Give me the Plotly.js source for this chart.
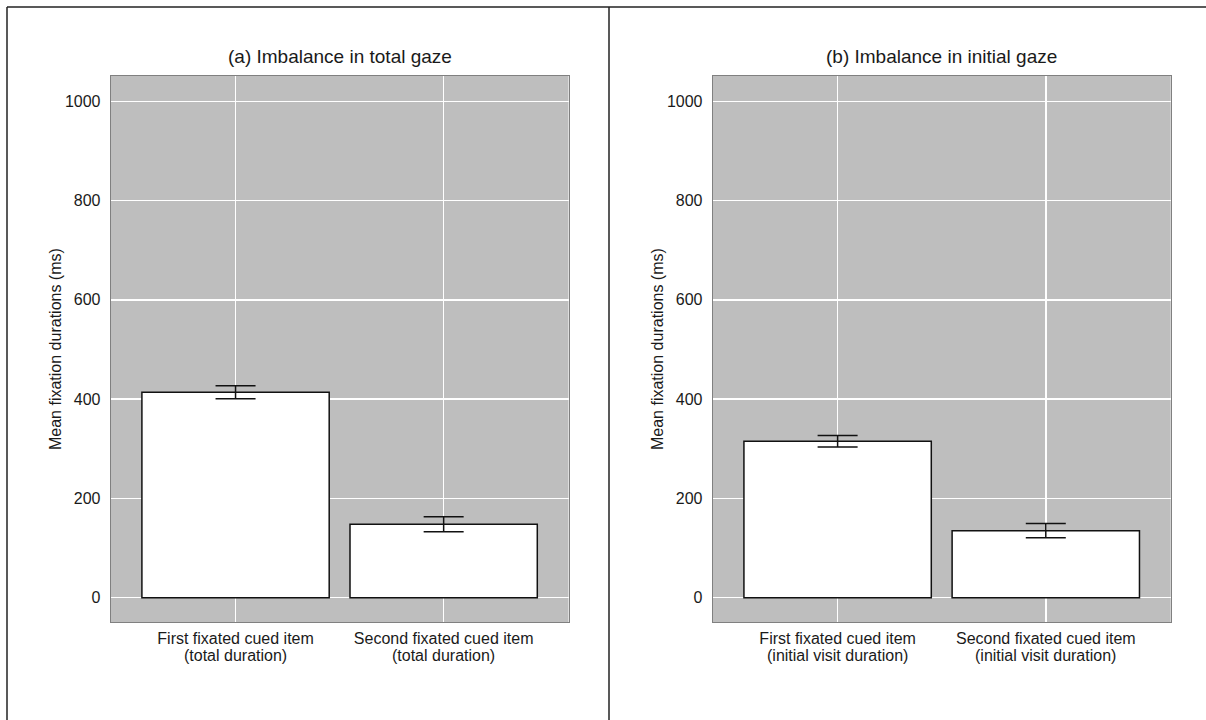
<!DOCTYPE html>
<html>
<head>
<meta charset="utf-8">
<script src="https://cdn.plot.ly/plotly-3.0.1.min.js"></script>
<style>
  html, body { margin: 0; padding: 0; background: #ffffff; }
  #chart { width: 1206px; height: 720px; }
</style>
</head>
<body>
<div id="chart"></div>
<script>
// Mean fixation durations (ms) with standard errors
const panelTitles = ['(a) Imbalance in total gaze', '(b) Imbalance in initial gaze'];

const categories = ['First fixated cued item', 'Second fixated cued item'];
const detailTotal = ['(total duration)', '(total duration)'];
const detailInitial = ['(initial visit duration)', '(initial visit duration)'];

const meanTotal = [414, 148];
const errTotal = [13, 15];
const meanInitial = [315, 135];
const errInitial = [11.5, 14.5];

const yTickVals = [0, 200, 400, 600, 800, 1000];
const yAxisTitle = 'Mean fixation durations (ms)';

const W = 1206, H = 720;
const px = v => v / W;           // horizontal pixel -> paper
const py = v => 1 - v / H;       // vertical pixel -> paper

const textColor = '#1a1a1a';
const fontFamily = '"Liberation Sans", Arial, Helvetica, sans-serif';
const labelSize = 16;

function barTrace(cats, vals, errs, xa, ya) {
  return {
    type: 'bar',
    x: cats,
    y: vals,
    xaxis: xa,
    yaxis: ya,
    width: 0.9,
    marker: { color: '#ffffff', line: { color: '#111111', width: 1.5 } },
    error_y: { type: 'data', array: errs, visible: true, color: '#111111', thickness: 1.5, width: 20 },
    hoverinfo: 'x+y',
    showlegend: false
  };
}

const xCommon = {
  type: 'category',
  range: [-0.6, 1.6],
  showgrid: true,
  gridcolor: '#ffffff',
  gridwidth: 1.5,
  zeroline: false,
  showline: true,
  mirror: true,
  linecolor: '#808080',
  linewidth: 1,
  ticks: '',
  ticklabelstandoff: 2,
  tickfont: { size: labelSize, color: textColor, family: fontFamily },
  fixedrange: true
};
const yCommon = {
  range: [-49, 1051],
  tickvals: yTickVals,
  ticktext: yTickVals.map(String),
  showgrid: true,
  gridcolor: '#ffffff',
  gridwidth: 1.5,
  zeroline: false,
  showline: true,
  mirror: true,
  linecolor: '#808080',
  linewidth: 1,
  ticks: '',
  ticklabelstandoff: 6,
  tickfont: { size: labelSize, color: textColor, family: fontFamily },
  domain: [py(622), py(76)],
  fixedrange: true
};

const domA = [px(110.7), px(568.5)];
const domB = [px(712.7), px(1170.7)];

// second line of each category label, placed under the tick label
function detailNotes(details, xref) {
  return details.map((t, i) => ({
    text: t, xref: xref, yref: 'paper', x: categories[i], y: py(645),
    xanchor: 'center', yanchor: 'top', showarrow: false,
    font: { size: labelSize, color: textColor }
  }));
}

const layout = {
  width: W,
  height: H,
  margin: { l: 0, r: 0, t: 0, b: 0 },
  paper_bgcolor: '#ffffff',
  plot_bgcolor: '#bebebe',
  font: { family: fontFamily, color: textColor },
  bargap: 0,
  xaxis: Object.assign({}, xCommon, { domain: domA, anchor: 'y' }),
  yaxis: Object.assign({}, yCommon, { anchor: 'x' }),
  xaxis2: Object.assign({}, xCommon, { domain: domB, anchor: 'y2' }),
  yaxis2: Object.assign({}, yCommon, { anchor: 'x2' }),
  annotations: [
    { text: panelTitles[0], xref: 'paper', yref: 'paper', x: (domA[0] + domA[1]) / 2, y: py(57),
      xanchor: 'center', yanchor: 'middle', showarrow: false, font: { size: 19, color: textColor } },
    { text: panelTitles[1], xref: 'paper', yref: 'paper', x: (domB[0] + domB[1]) / 2, y: py(57),
      xanchor: 'center', yanchor: 'middle', showarrow: false, font: { size: 19, color: textColor } },
    { text: yAxisTitle, xref: 'paper', yref: 'paper', x: px(55), y: py(349), textangle: -90,
      xanchor: 'center', yanchor: 'middle', showarrow: false, font: { size: labelSize, color: textColor } },
    { text: yAxisTitle, xref: 'paper', yref: 'paper', x: px(657), y: py(349), textangle: -90,
      xanchor: 'center', yanchor: 'middle', showarrow: false, font: { size: labelSize, color: textColor } }
  ].concat(detailNotes(detailTotal, 'x'), detailNotes(detailInitial, 'x2')),
  shapes: [
    { type: 'line', xref: 'paper', yref: 'paper', x0: px(7), x1: px(1206), y0: py(7), y1: py(7),
      line: { color: '#222222', width: 1.5 } },
    { type: 'line', xref: 'paper', yref: 'paper', x0: px(7), x1: px(7), y0: py(7), y1: 0,
      line: { color: '#222222', width: 1.5 } },
    { type: 'line', xref: 'paper', yref: 'paper', x0: px(609), x1: px(609), y0: py(7), y1: 0,
      line: { color: '#222222', width: 1.5 } }
  ]
};

const data = [
  barTrace(categories, meanTotal, errTotal, 'x', 'y'),
  barTrace(categories, meanInitial, errInitial, 'x2', 'y2')
];

Plotly.newPlot('chart', data, layout, { displayModeBar: false, staticPlot: true });
</script>
</body>
</html>
